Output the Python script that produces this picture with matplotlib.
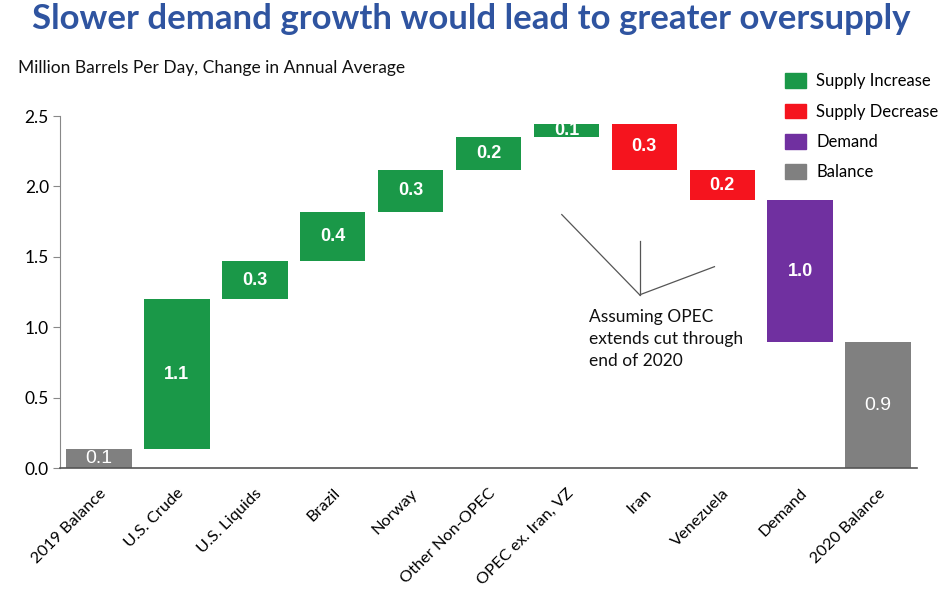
import matplotlib.pyplot as plt
from matplotlib.patches import Patch
import numpy as np

plt.rcParams['font.family'] = ['Lato', 'DejaVu Sans']

# Kategorien und Werte (Mio. Barrel pro Tag)
categories = ['2019 Balance', 'U.S. Crude', 'U.S. Liquids', 'Brazil', 'Norway',
              'Other Non-OPEC', 'OPEC ex. Iran, VZ', 'Iran', 'Venezuela',
              'Demand', '2020 Balance']
changes = [0.135, 1.065, 0.27, 0.35, 0.30, 0.23, 0.09, -0.32, -0.22, -1.005, 0.895]
kinds = ['balance', 'inc', 'inc', 'inc', 'inc', 'inc', 'inc', 'dec', 'dec', 'demand', 'balance']
value_labels = ['0.1', '1.1', '0.3', '0.4', '0.3', '0.2', '0.1', '0.3', '0.2', '1.0', '0.9']

colors = {'inc': '#1a9848', 'dec': '#f5141e', 'demand': '#7030a0', 'balance': '#808080'}
legend_names = {'inc': 'Supply Increase', 'dec': 'Supply Decrease',
                'demand': 'Demand', 'balance': 'Balance'}

# Waterfall-Positionen berechnen
bottoms = []
heights = []
level = 0.0
for ch, k in zip(changes, kinds):
    if k == 'balance':
        bottoms.append(0.0)
        heights.append(ch)
        level = ch
    else:
        new = level + ch
        bottoms.append(min(level, new))
        heights.append(abs(ch))
        level = new

fig = plt.figure(figsize=(9.42, 5.94), dpi=100)
ax = fig.add_axes([0.0637, 0.2121, 0.9098, 0.5926])

x = np.arange(len(categories))
ax.bar(x, heights, bottom=bottoms, width=0.84,
       color=[colors[k] for k in kinds], zorder=2)

for i, (b, h, k, lab) in enumerate(zip(bottoms, heights, kinds, value_labels)):
    if k == 'balance':
        ax.text(i, b + h / 2, lab, ha='center', va='center', color='white',
                fontsize=14, family=['Liberation Sans'], zorder=3)
    else:
        ax.text(i, b + h / 2, lab, ha='center', va='center', color='white',
                fontsize=13, fontweight='bold', family=['Liberation Sans'], zorder=3)

ax.set_xlim(-0.5, 10.5)
ax.set_ylim(0, 2.5)
ax.set_yticks([0, 0.5, 1.0, 1.5, 2.0, 2.5])
ax.set_yticklabels(['0.0', '0.5', '1.0', '1.5', '2.0', '2.5'], fontsize=12.5)
ax.set_xticks(x)
ax.set_xticklabels(categories, rotation=45, ha='right', rotation_mode='anchor', fontsize=11.8)
ax.tick_params(axis='x', length=0, pad=13)
ax.tick_params(axis='y', length=5, color='#888888', pad=3)
ax.spines['top'].set_visible(False)
ax.spines['right'].set_visible(False)
ax.spines['left'].set_color('#888888')
ax.spines['bottom'].set_color('#555555')
ax.spines['bottom'].set_linewidth(1.2)

# Anmerkung OPEC
ax.plot([5.94, 6.94], [1.80, 1.23], color='#555555', lw=0.9)
ax.plot([6.94, 6.94], [1.61, 1.23], color='#555555', lw=0.9)
ax.plot([6.94, 7.90], [1.23, 1.43], color='#555555', lw=0.9)
ax.text(6.29, 1.13, 'Assuming OPEC\nextends cut through\nend of 2020', ha='left', va='top',
        fontsize=12.5, linespacing=1.45, color='#111111')

fig.text(0.5, 0.968, 'Slower demand growth would lead to greater oversupply', ha='center',
         va='center', fontsize=25, fontweight='bold', color='#2f54a0')
fig.text(0.019, 0.885, 'Million Barrels Per Day, Change in Annual Average', ha='left',
         va='center', fontsize=12.5, color='#111111')

handles = [Patch(color=colors[k], label=legend_names[k]) for k in ['inc', 'dec', 'demand', 'balance']]
fig.legend(handles=handles, loc='upper left', bbox_to_anchor=(0.826, 0.888), frameon=False,
           fontsize=12, handlelength=1.3, handleheight=1.0, handletextpad=0.6,
           labelspacing=0.85, borderaxespad=0)

plt.savefig('out.png', dpi=100)
